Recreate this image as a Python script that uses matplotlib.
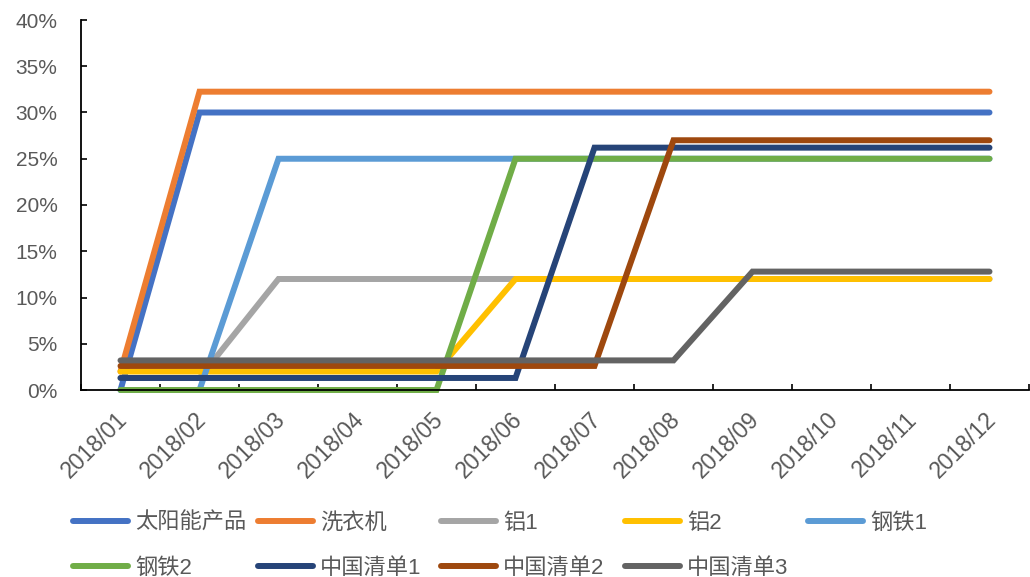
import matplotlib
matplotlib.use("Agg")
import matplotlib.pyplot as plt
import matplotlib.transforms as mtransforms
from matplotlib.ticker import PercentFormatter, FixedLocator
from matplotlib.lines import Line2D

plt.rcParams['font.family'] = ['Liberation Sans', 'Noto Sans CJK SC']

months = ["2018/01", "2018/02", "2018/03", "2018/04", "2018/05", "2018/06",
          "2018/07", "2018/08", "2018/09", "2018/10", "2018/11", "2018/12"]

solar    = [0.000] + [0.300] * 11
washer   = [0.020] + [0.3225] * 11
alu1     = [0.013, 0.013] + [0.120] * 10
alu2     = [0.020] * 5 + [0.120] * 7
steel1   = [0.000, 0.000] + [0.250] * 10
steel2   = [0.000] * 5 + [0.250] * 7
china1   = [0.013] * 6 + [0.262] * 6
china2   = [0.026] * 7 + [0.270] * 5
china3   = [0.032] * 8 + [0.128] * 4

series_names = ["太阳能产品", "洗衣机", "铝1", "铝2", "钢铁1",
                "钢铁2", "中国清单1", "中国清单2", "中国清单3"]
series_vals = [solar, washer, alu1, alu2, steel1, steel2, china1, china2, china3]
colors = ["#4472C4", "#ED7D31", "#A5A5A5", "#FFC000", "#5B9BD5",
          "#70AD47", "#264478", "#9E480E", "#636363"]

W, H = 1030, 577
FS_Y = 15
FS_X = 16.5
FS_L = 16
fig = plt.figure(figsize=(W / 100, H / 100), dpi=100)
ax = fig.add_axes([81 / W, 1 - 390 / H, (1029 - 81) / W, (390 - 20) / H])

x = list(range(len(months)))
lw = 4.3
for name, vals, c in zip(series_names, series_vals, colors):
    ax.plot(x, vals, color=c, lw=lw, label=name,
            solid_capstyle='round', solid_joinstyle='miter', clip_on=False)

ax.set_xlim(-0.5, len(months) - 0.5)
ax.set_ylim(0, 0.40)
ax.yaxis.set_major_locator(FixedLocator([i * 0.05 for i in range(9)]))
ax.yaxis.set_major_formatter(PercentFormatter(1.0, decimals=0))

# category boundaries as tick marks, labels at centres
ax.set_xticks([i - 0.5 for i in range(len(months) + 1)])
ax.set_xticklabels([])
ax.set_xticks(x, minor=True)
ax.set_xticklabels(months, minor=True, rotation=45, ha='right',
                   va='center', rotation_mode='anchor')
ax.tick_params(axis='x', which='minor', length=0, pad=19)
ax.tick_params(axis='x', which='major', direction='in', length=4, width=1.2)
ax.tick_params(axis='y', direction='in', length=4, width=1.2, pad=17)

offset = mtransforms.ScaledTranslation(3 / 100, 0, fig.dpi_scale_trans)
for lab in ax.get_xticklabels(minor=True):
    lab.set_transform(lab.get_transform() + offset)
    lab.set_fontsize(FS_X)
    lab.set_color('#595959')
for lab in ax.get_yticklabels():
    lab.set_fontsize(FS_Y)
    lab.set_color('#595959')

for s in ['top', 'right']:
    ax.spines[s].set_visible(False)
for s in ['left', 'bottom']:
    ax.spines[s].set_linewidth(1.3)
    ax.spines[s].set_color('black')

# legend: 5 equal-width columns, 2 rows (row-major order)
col_x = [73, 258, 441, 625, 808]
n = len(series_names)
for ci, cx in enumerate(col_x):
    idxs = [i for i in (ci, ci + 5) if i < n]
    handles = [Line2D([], [], color=colors[i], lw=lw, solid_capstyle='round')
               for i in idxs]
    labels = [series_names[i] for i in idxs]
    leg = fig.legend(handles, labels, loc='upper left',
                     bbox_to_anchor=(cx / W, 1 - 513 / H),
                     frameon=False, borderpad=0, borderaxespad=0,
                     handlelength=2.48, handletextpad=0.32,
                     labelspacing=1.07, fontsize=FS_L)
    for t in leg.get_texts():
        t.set_color('#595959')

fig.savefig("out.png", dpi=100)
